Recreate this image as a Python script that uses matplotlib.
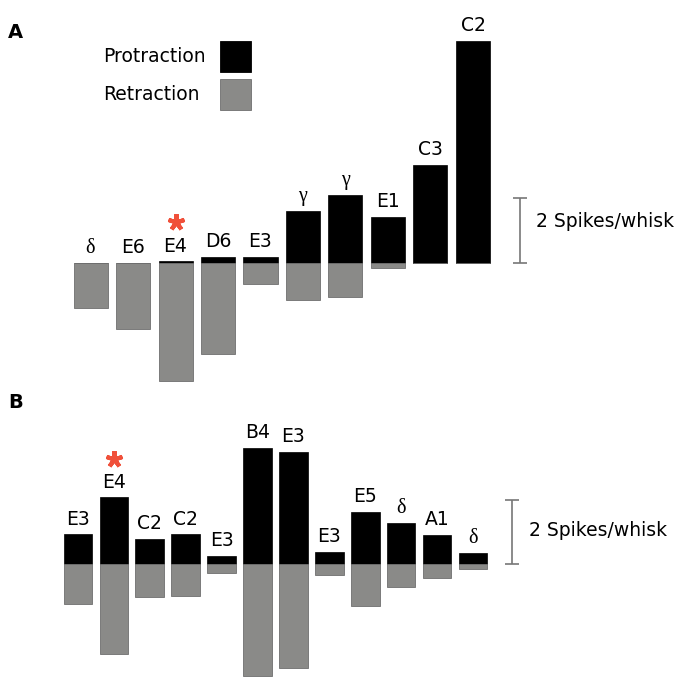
import matplotlib.pyplot as plt
from matplotlib.patches import Rectangle
from matplotlib.transforms import offset_copy

# spikes per whisk, protraction (up) and retraction (down)
labels_a = ["δ", "E6", "E4", "D6", "E3", "γ", "γ", "E1", "C3", "C2"]
prot_a = [0.0, 0.0, 0.05, 0.18, 0.2, 1.6, 2.09, 1.42, 3.02, 6.83]
retr_a = [1.38, 2.03, 3.63, 2.8, 0.65, 1.14, 1.05, 0.15, 0.0, 0.0]

labels_b = ["E3", "E4", "C2", "C2", "E3", "B4", "E3", "E3", "E5", "δ", "A1", "δ"]
prot_b = [0.93, 2.08, 0.78, 0.93, 0.25, 3.63, 3.5, 0.37, 1.63, 1.28, 0.9, 0.34]
retr_b = [1.24, 2.8, 1.03, 1.0, 0.28, 3.5, 3.25, 0.34, 1.31, 0.72, 0.44, 0.16]

starred = "E4"
scale_value = 2
legend_labels = ["Protraction", "Retraction"]

BLACK = "#000000"
GRAY = "#8a8a88"
EDGE_GRAY = "#6f6f6f"
STAR = "#f0503a"
SANS = "DejaVu Sans"
SERIF = "Liberation Serif"
FS = 13.5
W, H = 675, 677

fig = plt.figure(figsize=(6.75, 6.77), dpi=100)


def panel(xlim, ylim, labels, prot, retr, scale_y_text):
    ax = fig.add_axes([0, 0, 1, 1])
    ax.patch.set_alpha(0)
    ax.set_xlim(*xlim)
    ax.set_ylim(*ylim)
    ax.axis("off")
    xs = list(range(len(labels)))
    ax.bar(xs, prot, width=0.8, color=BLACK, edgecolor=BLACK, linewidth=0.5)
    ax.bar(xs, [-r for r in retr], width=0.8, color=GRAY, edgecolor=EDGE_GRAY,
           linewidth=0.6)
    for x, lab, p in zip(xs, labels, prot):
        greek = lab in ("δ", "γ")
        ax.annotate(lab, (x, p), xytext=(0, 7), textcoords="offset points",
                    ha="center", va="baseline",
                    fontsize=FS + 1 if greek else FS,
                    family=SERIF if greek else SANS)
        if lab == starred:
            # five-armed asterisk above the label
            tr = offset_copy(ax.transData, fig=fig, x=0, y=28, units="points")
            ax.plot([x], [p], marker=(5, 2, 0), markersize=12,
                    markeredgewidth=3, color=STAR, transform=tr)
    # scale bar
    xb = len(labels) + 0.1
    ax.errorbar([xb], [scale_value / 2], yerr=scale_value / 2, color="#777777",
                capsize=4.7, elinewidth=1.2, capthick=1.2, fmt="none")
    ax.annotate(f"{scale_value} Spikes/whisk", (xb, scale_y_text),
                xytext=(12, 0), textcoords="offset points",
                ha="left", va="center", fontsize=FS, family=SANS)
    return ax


# panel A: bar centres at 90.5 px, step 42.5 px; baseline at 263 px, 32.5 px/spike
ax_a = panel((-90.5 / 42.5, (W - 90.5) / 42.5),
             ((263 - H) / 32.5, 263 / 32.5),
             labels_a, prot_a, retr_a, 1.27)
# panel B: bar centres at 78 px, step 35.9 px; baseline at 564 px, 32 px/spike
ax_b = panel((-78 / 35.9, (W - 78) / 35.9),
             ((564 - H) / 32, 564 / 32),
             labels_b, prot_b, retr_b, 1.05)

fig.text(8 / W, 1 - 32 / H, "A", fontsize=14, fontweight="bold",
         family=SANS, va="center", ha="left")
fig.text(8 / W, 1 - 402 / H, "B", fontsize=14, fontweight="bold",
         family=SANS, va="center", ha="left")

# legend: left-aligned labels with square swatches to the right
for i, (lab, fc, ec) in enumerate(zip(legend_labels, [BLACK, GRAY],
                                      [BLACK, EDGE_GRAY])):
    top = 41 + 38 * i
    fig.add_artist(Rectangle((220 / W, 1 - (top + 31) / H), 31 / W, 31 / H,
                             facecolor=fc, edgecolor=ec, linewidth=0.6,
                             transform=fig.transFigure))
    fig.text(103 / W, 1 - (top + 15.5) / H, lab, fontsize=FS, family=SANS,
             ha="left", va="center")

fig.savefig("out.png", dpi=100)
